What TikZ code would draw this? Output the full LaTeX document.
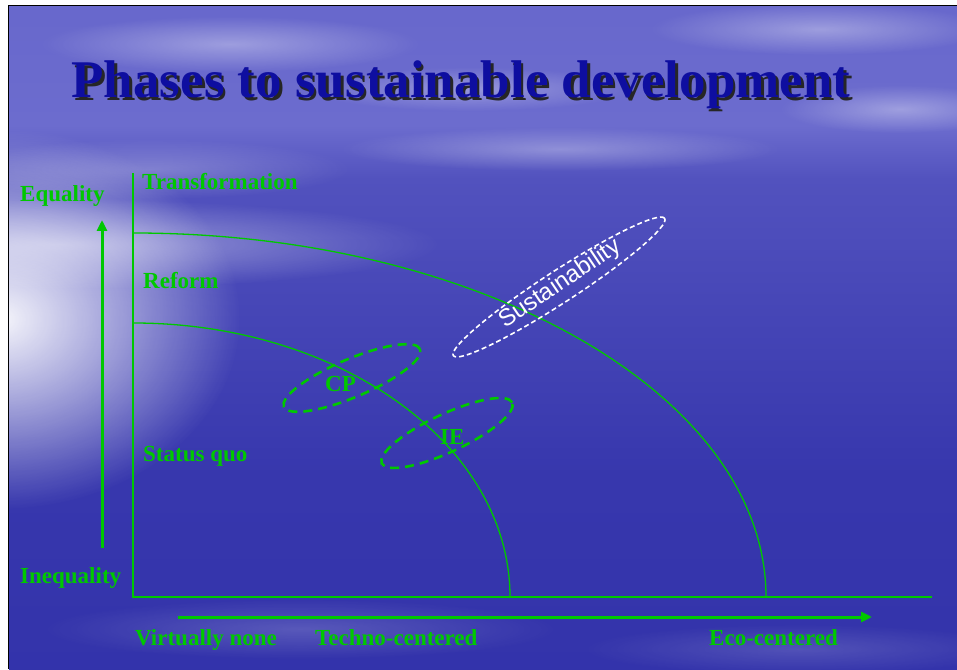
\documentclass[tikz,border=0pt]{standalone}
\usepackage{fontspec}
\setmainfont{Liberation Serif}
\newfontfamily\sansf{Liberation Sans}
\usetikzlibrary{arrows.meta,fadings}
\definecolor{grn}{RGB}{0,200,0}
\definecolor{ttl}{RGB}{14,14,160}
\definecolor{skytop}{RGB}{92,92,198}
\definecolor{skyhor}{RGB}{108,108,206}
\definecolor{seatop}{RGB}{82,82,190}
\definecolor{seabot}{RGB}{44,44,166}
\pgfdeclareverticalshading{bgshade}{100bp}{color(0bp)=(seabot); color(40bp)=(seabot!70!seatop); color(62bp)=(seatop); color(66bp)=(skyhor); color(100bp)=(skytop)}
\tikzfading[name=glow, inner color=transparent!0, outer color=transparent!100]
\begin{document}
\begin{tikzpicture}[x=1pt,y=1pt,
 lbl/.style={text=grn, font=\bfseries\fontsize{23}{25}\selectfont, anchor=base west, inner sep=0pt},
 axisline/.style={draw=grn, line width=1.5pt},
 curve/.style={draw=grn, line width=1.3pt},
 bigarrow/.style={draw=grn, line width=3pt, -{Triangle[length=11pt,width=10pt]}},
 ring/.style={draw=grn, line width=2.6pt, dash pattern=on 9pt off 6pt},
 sring/.style={draw=white, line width=1.6pt, dash pattern=on 5pt off 3pt},
 cloud/.style={fill=white, path fading=glow},
 ttlfont/.style={font=\bfseries\fontsize{53}{60}\selectfont, anchor=base, inner sep=0pt}
]
\useasboundingbox (0,0) rectangle (957,669);
\fill[white] (0,0) rectangle (957,669);
% background
\begin{scope}
\clip (9,0) rectangle (957,663);
\shade[shading=bgshade] (9,0) rectangle (957,663);
\fill[cloud, fill opacity=0.95] (0,350) ellipse [x radius=240pt, y radius=190pt];
\fill[cloud, fill opacity=0.45] (60,425) ellipse [x radius=380pt, y radius=45pt];
\fill[cloud, fill opacity=0.35] (230,625) ellipse [x radius=190pt, y radius=28pt];
\fill[cloud, fill opacity=0.30] (470,580) ellipse [x radius=160pt, y radius=22pt];
\fill[cloud, fill opacity=0.35] (820,640) ellipse [x radius=170pt, y radius=26pt];
\fill[cloud, fill opacity=0.30] (560,520) ellipse [x radius=220pt, y radius=22pt];
\fill[cloud, fill opacity=0.35] (900,560) ellipse [x radius=120pt, y radius=24pt];
\fill[cloud, fill opacity=0.25] (150,500) ellipse [x radius=200pt, y radius=30pt];
\fill[cloud, fill opacity=0.18] (300,40) ellipse [x radius=260pt, y radius=30pt];
\fill[cloud, fill opacity=0.15] (800,20) ellipse [x radius=220pt, y radius=25pt];
\end{scope}
\draw[black, line width=1.2pt] (8.6,0) -- (8.6,663.4) -- (957,663.4);

% title
\node[ttlfont, text=black!85] (tshadow) at (463.5,568.5) {Phases to sustainable development};
\node[ttlfont, text=ttl] (title) at (461,571) {Phases to sustainable development};

% coordinates
\coordinate (O) at (133,72);
\coordinate (ytop) at (133,496);
\coordinate (xend) at (932,72);
\coordinate (u0) at (133,436);
\coordinate (l0) at (133,346);
\coordinate (ya0) at (102,121);
\coordinate (ya1) at (102,449);
\coordinate (xa0) at (178,52);
\coordinate (xa1) at (872,52);
\coordinate (sc) at (559,382);
\coordinate (cpc) at (352,291);
\coordinate (iec) at (447,236);

% curves
\draw[curve] (u0) arc[start angle=90, end angle=0, x radius=633pt, y radius=364pt];
\draw[curve] (l0) arc[start angle=90, end angle=0, x radius=377pt, y radius=274pt];
% axes
\draw[axisline] (ytop) -- (O) -- (xend);
\draw[bigarrow] (ya0) -- (ya1);
\draw[bigarrow] (xa0) -- (xa1);

% ellipses
\draw[sring, rotate around={33:(sc)}] (sc) ellipse [x radius=126pt, y radius=16pt];
\draw[ring, rotate around={23:(cpc)}] (cpc) ellipse [x radius=74pt, y radius=19pt];
\draw[ring, rotate around={25:(iec)}] (iec) ellipse [x radius=72pt, y radius=19pt];

% labels
\node[lbl] (equality) at (20,467) {Equality};
\node[lbl] (transformation) at (142,479) {Transformation};
\node[lbl] (reform) at (143,380) {Reform};
\node[lbl] (statusquo) at (143,207) {Status quo};
\node[lbl] (inequality) at (20,86) {Inequality};
\node[lbl] (virtually) at (135,24) {Virtually none};
\node[lbl] (techno) at (315,24) {Techno-centered};
\node[lbl] (eco) at (709,24) {Eco-centered};
\node[lbl] (cp) at (325,277) {CP};
\node[lbl] (ie) at (440,224) {IE};
\node[anchor=base west, inner sep=0pt, text=white, rotate=34, font=\sansf\fontsize{24}{27}\selectfont] (sust) at (505,340) {Sustainability};
\end{tikzpicture}
\end{document}
